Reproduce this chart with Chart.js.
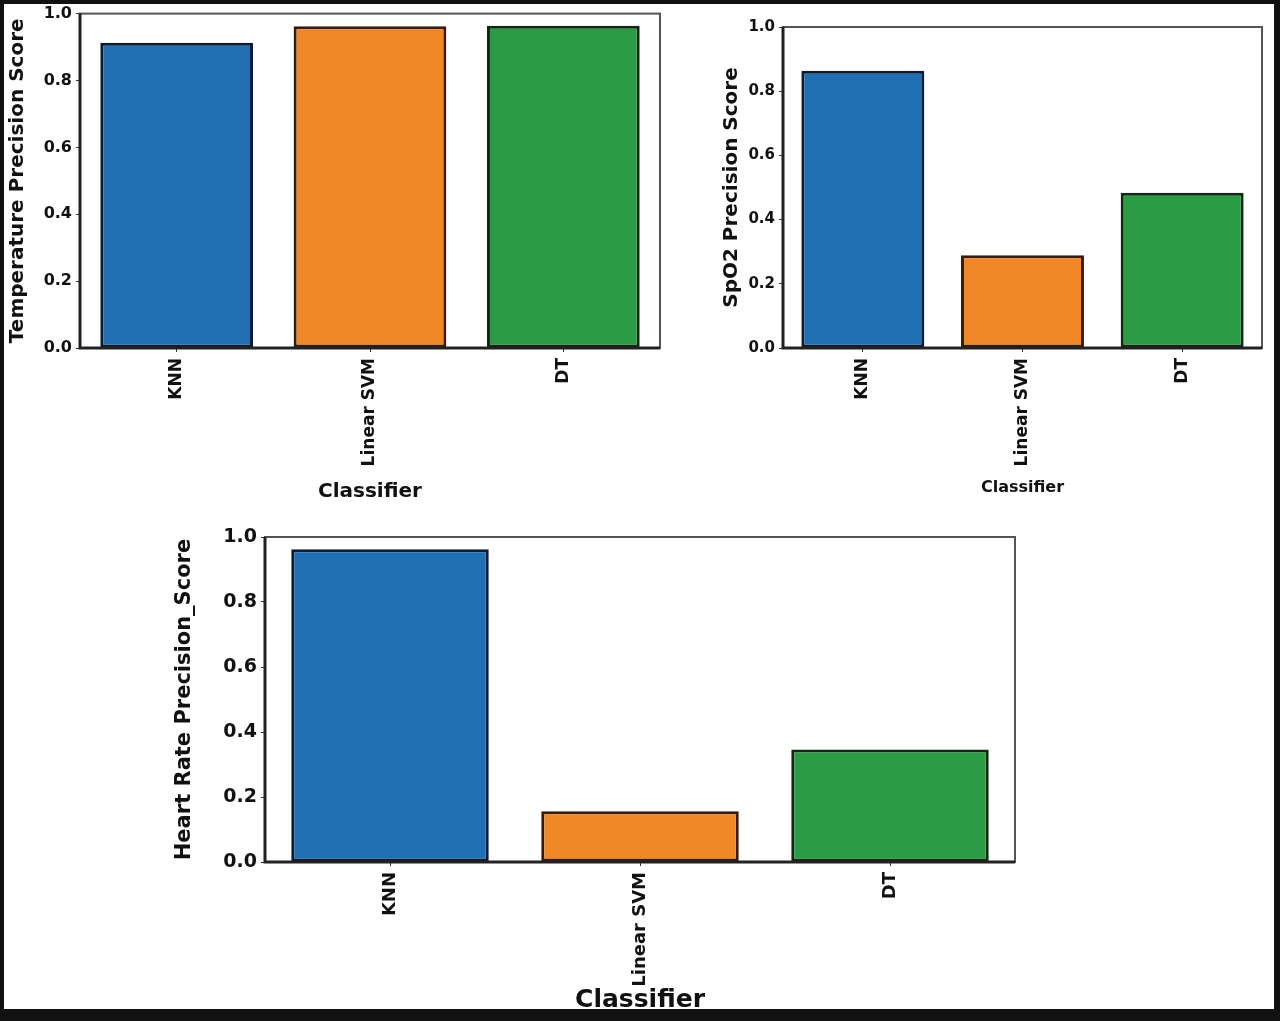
<!DOCTYPE html>
<html>
<head>
<meta charset="utf-8">
<script src="https://cdn.jsdelivr.net/npm/chart.js@4.4.1/dist/chart.umd.min.js"></script>
<style>
    body { margin: 0; background: #fff; }
    #page { position: relative; width: 1280px; height: 1021px; overflow: hidden; }
    .chart-box { position: absolute; }
    #frame {
        position: absolute; left: 0; top: 0; width: 1280px; height: 1021px;
        box-sizing: border-box; border: 4px solid #111; border-right-width: 6px;
        border-bottom-width: 12px; pointer-events: none;
    }
</style>
</head>
<body>
<div id="page">
    <div class="chart-box" style="left:5px;top:0px;"><canvas id="tempChart" width="670" height="505"></canvas></div>
    <div class="chart-box" style="left:720px;top:3px;"><canvas id="spo2Chart" width="555" height="505"></canvas></div>
    <div class="chart-box" style="left:160px;top:510px;"><canvas id="heartChart" width="870" height="505"></canvas></div>
    <div id="frame"></div>
</div>
<script>
const classifiers = ['KNN', 'Linear SVM', 'DT'];
const temperatureScores = [0.913, 0.962, 0.964];
const spo2Scores = [0.864, 0.289, 0.484];
const heartRateScores = [0.962, 0.156, 0.346];
const yTickLabels = ['0.0', '0.2', '0.4', '0.6', '0.8', '1.0'];

const barColors = ['#1f6fb2', '#ef8727', '#2b9c45'];
const barEdges = ['#0c1a33', '#3a1a05', '#0f2a12'];

// draws the four spines round the plot area
const spinesPlugin = {
    id: 'spines',
    afterDatasetsDraw(chart) {
        const a = chart.chartArea;
        const ctx = chart.ctx;
        ctx.save();
        ctx.strokeStyle = '#555';
        ctx.lineWidth = 2;
        ctx.strokeRect(a.left, a.top, a.right - a.left, a.bottom - a.top);
        ctx.strokeStyle = '#222';
        ctx.lineWidth = 3;
        ctx.beginPath();
        ctx.moveTo(a.left, a.top);
        ctx.lineTo(a.left, a.bottom);
        ctx.lineTo(a.right, a.bottom);
        ctx.stroke();
        ctx.restore();
    }
};

function makeChart(canvasId, values, yTitle, opts) {
    const ctx = document.getElementById(canvasId).getContext('2d');
    new Chart(ctx, {
        type: 'bar',
        data: {
            labels: classifiers,
            datasets: [{
                data: values,
                backgroundColor: barColors,
                borderColor: barEdges,
                borderWidth: 3,
                borderSkipped: false,
                barPercentage: opts.barPct,
                categoryPercentage: 1
            }]
        },
        options: {
            responsive: false,
            animation: false,
            layout: { padding: opts.padding },
            plugins: { legend: { display: false }, tooltip: { enabled: false } },
            scales: {
                x: {
                    afterFit: s => { s.height = opts.xHeight; },
                    grid: { offset: false, drawOnChartArea: false, drawTicks: true, tickLength: 4, color: '#333' },
                    border: { display: false },
                    ticks: {
                        minRotation: 90, maxRotation: 90, color: '#111', padding: 6,
                        font: { family: 'DejaVu Sans', size: opts.xTickSize, weight: 'bold' }
                    },
                    title: {
                        display: true, text: 'Classifier', color: '#111',
                        padding: { top: 0, bottom: opts.xTitlePad },
                        font: { family: 'DejaVu Sans', size: opts.xTitleSize, weight: 'bold' }
                    }
                },
                y: {
                    min: 0, max: 1,
                    afterFit: s => { s.width = opts.yWidth; },
                    grid: { drawOnChartArea: false, drawTicks: true, tickLength: 4, color: '#333' },
                    border: { display: false },
                    ticks: {
                        stepSize: 0.2, color: '#111', padding: 4,
                        font: { family: 'DejaVu Sans', size: opts.yTickSize, weight: 'bold' },
                        callback: v => yTickLabels[Math.round(v / 0.2)]
                    },
                    title: {
                        display: true, text: yTitle, color: '#111',
                        padding: { top: opts.yTitlePad, bottom: 0 },
                        font: { family: 'DejaVu Sans', size: opts.yTitleSize, weight: 'bold' }
                    }
                }
            }
        },
        plugins: [spinesPlugin]
    });
}

makeChart('tempChart', temperatureScores, 'Temperature Precision Score', {
    padding: { left: 0, right: 15, top: 8, bottom: 0 },
    xHeight: 157, yWidth: 75, barPct: 0.79,
    xTickSize: 17, yTickSize: 16, xTitleSize: 20, yTitleSize: 20,
    xTitlePad: 1, yTitlePad: 1
});

makeChart('spo2Chart', spo2Scores, 'SpO2 Precision Score', {
    padding: { left: 0, right: 13, top: 24, bottom: 0 },
    xHeight: 160, yWidth: 63, barPct: 0.77,
    xTickSize: 17, yTickSize: 15, xTitleSize: 16, yTitleSize: 20,
    xTitlePad: 11, yTitlePad: 0
});

makeChart('heartChart', heartRateScores, 'Heart Rate Precision_Score', {
    padding: { left: 10, right: 15, top: 27, bottom: 0 },
    xHeight: 153, yWidth: 95, barPct: 0.79,
    xTickSize: 18, yTickSize: 19, xTitleSize: 25, yTitleSize: 21,
    xTitlePad: 0, yTitlePad: 2
});
</script>
</body>
</html>
